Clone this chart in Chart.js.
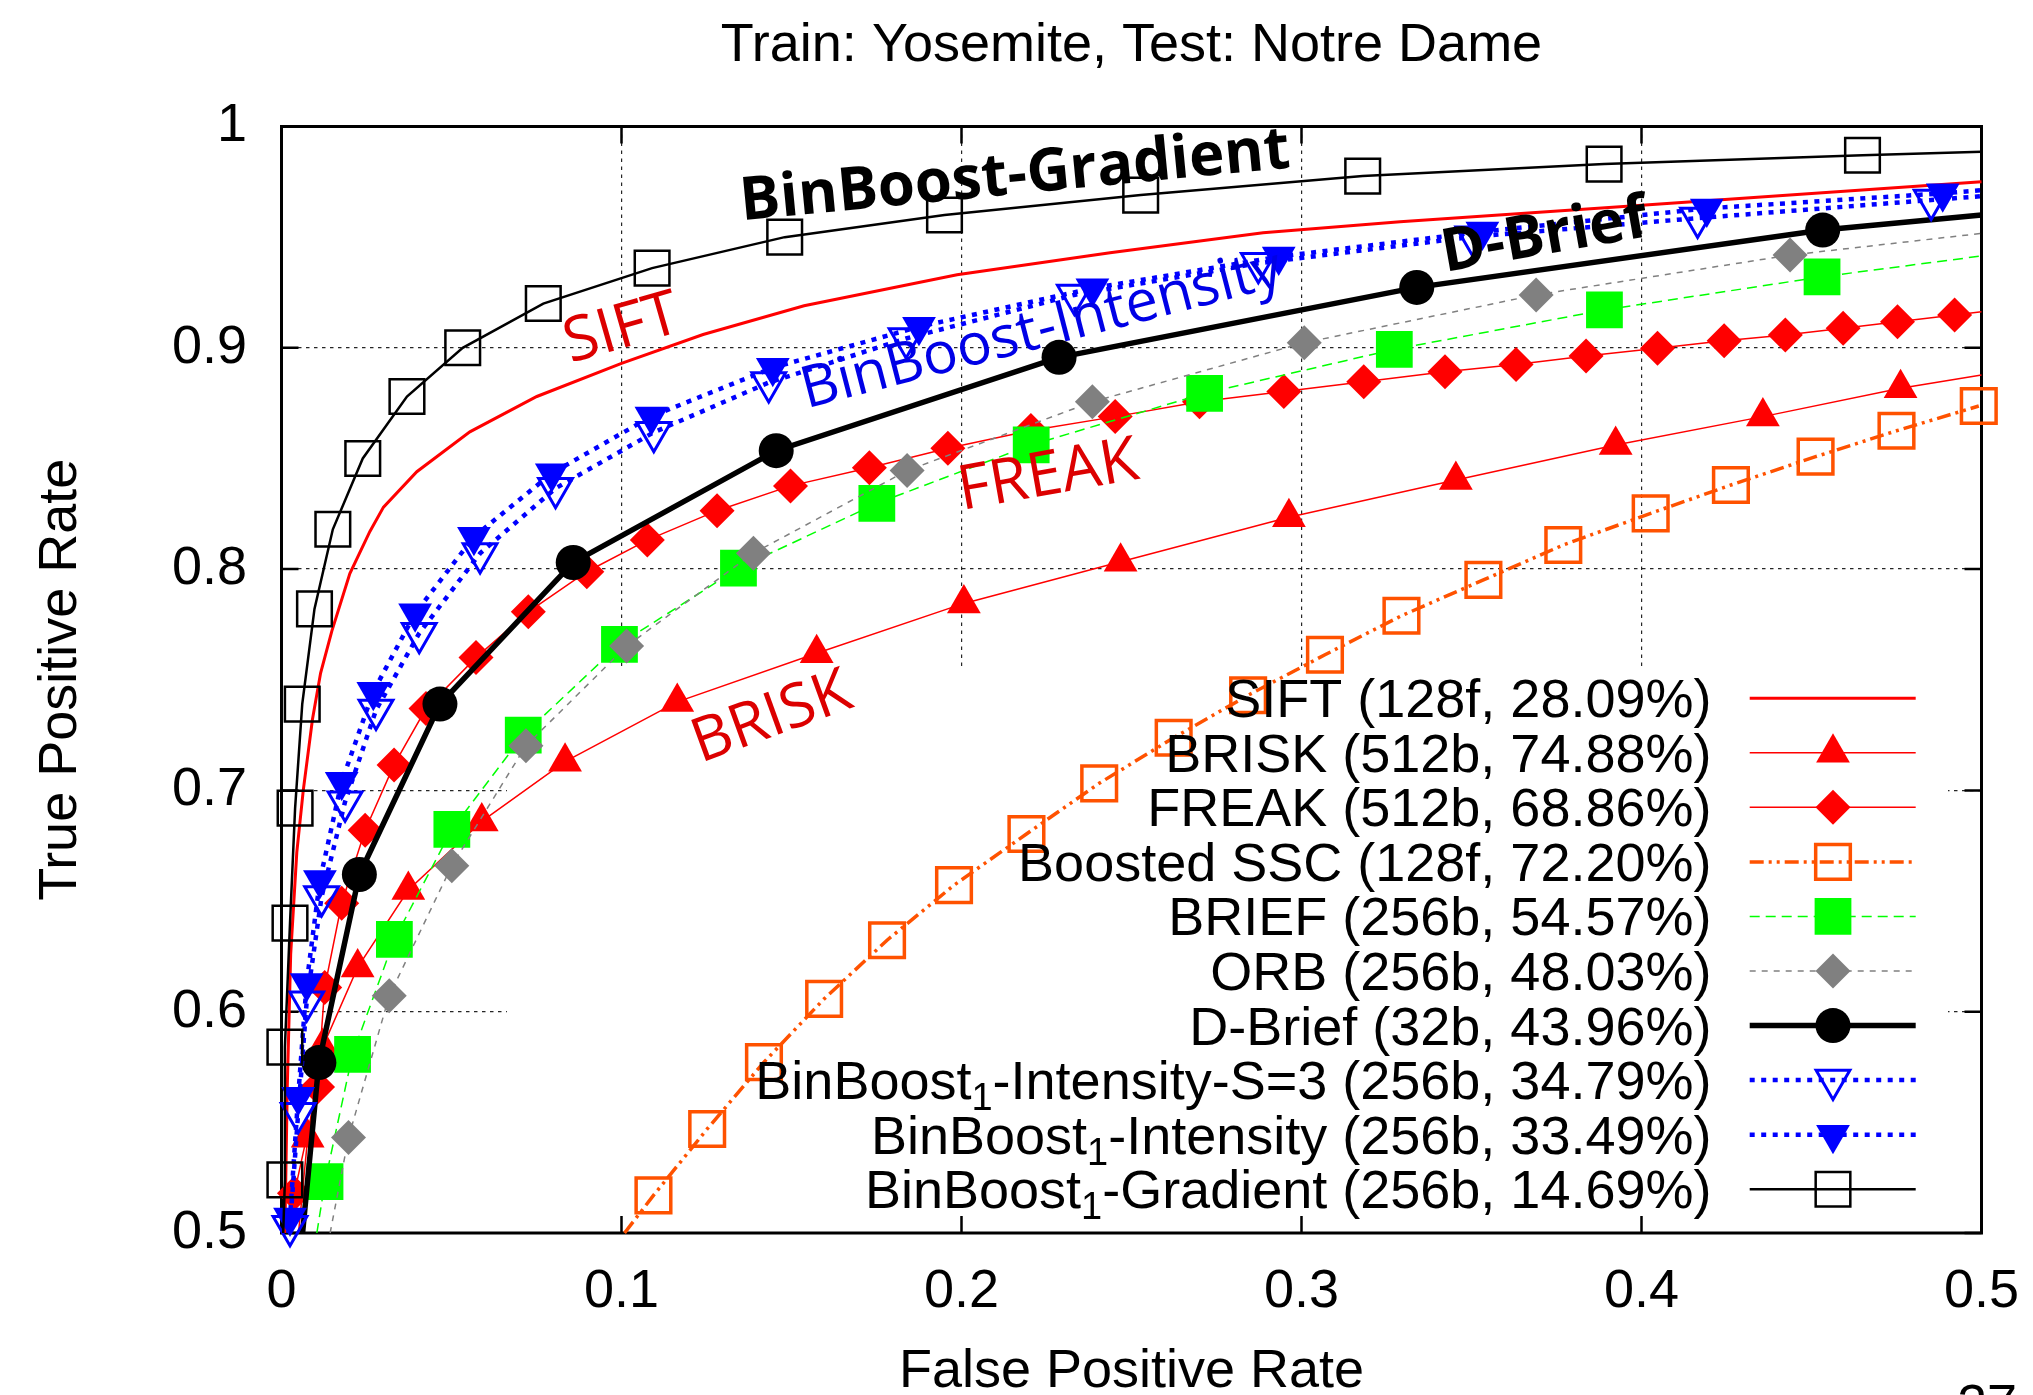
<!DOCTYPE html>
<html>
<head>
<meta charset="utf-8">
<script src="https://cdn.jsdelivr.net/npm/chart.js@4.4.0/dist/chart.umd.min.js"></script>
<style>
  html, body { margin: 0; padding: 0; background: #ffffff; }
  #wrap { width: 2033px; height: 1395px; }
  canvas { display: block; }
</style>
</head>
<body>
<div id="wrap"><canvas id="c" width="2033" height="1395"></canvas></div>
<script>
// ---------------- data ----------------
const xTickLabels = ['0', '0.1', '0.2', '0.3', '0.4', '0.5'];
const yTickLabels = ['0.5', '0.6', '0.7', '0.8', '0.9', '1'];

const siftFpr = [0.001, 0.0017, 0.0027, 0.0045, 0.0064, 0.0091, 0.0115, 0.0148, 0.0201, 0.026, 0.030, 0.0398, 0.0554, 0.0751, 0.100, 0.124, 0.1537, 0.1987, 0.2437, 0.2887, 0.329, 0.3958, 0.5];
const siftTpr = [0.5, 0.566, 0.626, 0.672, 0.700, 0.732, 0.753, 0.772, 0.798, 0.817, 0.828, 0.844, 0.862, 0.878, 0.893, 0.906, 0.919, 0.933, 0.943, 0.952, 0.957, 0.964, 0.975];

const briskFpr = [0.005, 0.0077, 0.0121, 0.0224, 0.0373, 0.0589, 0.0834, 0.1164, 0.1574, 0.2007, 0.2468, 0.2963, 0.3454, 0.3924, 0.4357, 0.4762, 0.5];
const briskTpr = [0.5, 0.543, 0.584, 0.620, 0.655, 0.686, 0.713, 0.740, 0.762, 0.7845, 0.8033, 0.8234, 0.8403, 0.8561, 0.8689, 0.8817, 0.8877];

const freakFpr = [0.0023, 0.0038, 0.0106, 0.0127, 0.0177, 0.0246, 0.0331, 0.0425, 0.0572, 0.0726, 0.0898, 0.1076, 0.1281, 0.1497, 0.1729, 0.196, 0.2204, 0.2452, 0.27, 0.2948, 0.3183, 0.3422, 0.3631, 0.3837, 0.4047, 0.4243, 0.4423, 0.4593, 0.4753, 0.4921, 0.5];
const freakTpr = [0.5, 0.518, 0.566, 0.6109, 0.649, 0.682, 0.7115, 0.737, 0.760, 0.7807, 0.7988, 0.8131, 0.8264, 0.8376, 0.8458, 0.8546, 0.8626, 0.8689, 0.8756, 0.8802, 0.8847, 0.8892, 0.8925, 0.8963, 0.8998, 0.9032, 0.9058, 0.9088, 0.9118, 0.9148, 0.9163];

const sscFpr = [0.1009, 0.1094, 0.1252, 0.1419, 0.1596, 0.1781, 0.1978, 0.2191, 0.2405, 0.2624, 0.2843, 0.3069, 0.3294, 0.3535, 0.377, 0.4027, 0.4263, 0.4512, 0.475, 0.4992];
const sscTpr = [0.5, 0.517, 0.547, 0.5772, 0.6058, 0.6323, 0.6572, 0.6803, 0.7032, 0.7238, 0.743, 0.7613, 0.7789, 0.7951, 0.8109, 0.8252, 0.838, 0.8508, 0.8625, 0.8737];

const briefFpr = [0.0104, 0.0128, 0.0209, 0.0332, 0.0501, 0.0711, 0.0994, 0.1344, 0.1751, 0.2205, 0.2715, 0.3273, 0.3891, 0.4531, 0.5];
const briefTpr = [0.5, 0.5232, 0.5807, 0.6327, 0.6824, 0.725, 0.766, 0.8004, 0.8297, 0.8561, 0.8794, 0.8993, 0.9171, 0.9321, 0.9415];

const orbFpr = [0.0143, 0.0197, 0.0317, 0.0501, 0.0719, 0.1015, 0.1388, 0.184, 0.2385, 0.3008, 0.369, 0.4437, 0.5];
const orbTpr = [0.5, 0.5431, 0.6072, 0.666, 0.7202, 0.7652, 0.8072, 0.8445, 0.8756, 0.9023, 0.9239, 0.9419, 0.9517];

const dbriefFpr = [0.0062, 0.011, 0.0229, 0.0466, 0.0858, 0.1455, 0.2287, 0.3339, 0.4533, 0.5];
const dbriefTpr = [0.5, 0.577, 0.662, 0.739, 0.803, 0.8535, 0.8957, 0.9273, 0.9532, 0.960];

const binIntS3Fpr = [0.0025, 0.0049, 0.0074, 0.0118, 0.0187, 0.0278, 0.0405, 0.0584, 0.0806, 0.1095, 0.1433, 0.1837, 0.2332, 0.2873, 0.3504, 0.4165, 0.4852, 0.5];
const binIntS3Tpr = [0.503, 0.5541, 0.6045, 0.652, 0.6949, 0.7363, 0.771, 0.8071, 0.8365, 0.8618, 0.8843, 0.9042, 0.9239, 0.9382, 0.9502, 0.9586, 0.9668, 0.9685];

const binIntFpr = [0.002, 0.0025, 0.0049, 0.0074, 0.0113, 0.0177, 0.027, 0.0393, 0.0566, 0.0795, 0.1088, 0.1445, 0.1875, 0.2385, 0.2933, 0.3532, 0.4192, 0.4886, 0.5];
const binIntTpr = [0.5, 0.507, 0.5616, 0.613, 0.6595, 0.7039, 0.7446, 0.78, 0.8146, 0.8433, 0.869, 0.891, 0.9095, 0.9269, 0.9412, 0.9525, 0.963, 0.9698, 0.9712];

const binGradFpr = [0.0005, 0.001, 0.001, 0.0025, 0.004, 0.0061, 0.0097, 0.0151, 0.0239, 0.0369, 0.0533, 0.077, 0.109, 0.148, 0.195, 0.2527, 0.318, 0.389, 0.465, 0.5];
const binGradTpr = [0.5, 0.524, 0.584, 0.640, 0.692, 0.739, 0.782, 0.818, 0.850, 0.878, 0.900, 0.920, 0.936, 0.950, 0.960, 0.969, 0.9776, 0.983, 0.987, 0.9886];

const seriesLabels = [
  'SIFT (128f, 28.09%)',
  'BRISK (512b, 74.88%)',
  'FREAK (512b, 68.86%)',
  'Boosted SSC (128f, 72.20%)',
  'BRIEF (256b, 54.57%)',
  'ORB (256b, 48.03%)',
  'D-Brief (32b, 43.96%)',
  'BinBoost\u2081-Intensity-S=3 (256b, 34.79%)',
  'BinBoost\u2081-Intensity (256b, 33.49%)',
  'BinBoost\u2081-Gradient (256b, 14.69%)'
];
const seriesFpr = [siftFpr, briskFpr, freakFpr, sscFpr, briefFpr, orbFpr, dbriefFpr, binIntS3Fpr, binIntFpr, binGradFpr];
const seriesTpr = [siftTpr, briskTpr, freakTpr, sscTpr, briefTpr, orbTpr, dbriefTpr, binIntS3Tpr, binIntTpr, binGradTpr];

const annotationTexts = ['BinBoost-Gradient', 'SIFT', 'BinBoost-Intensity', 'D-Brief', 'FREAK', 'BRISK'];

// ---------------- styles / layout ----------------
const RED = '#ff0000', ORANGE = '#ff5200', GREEN = '#00ff00', GRAY = '#808080', BLUE = '#0000ff', BLACK = '#000000';
const STYLES = [
  { color: RED,    width: 3,   dash: [],                    marker: null },
  { color: RED,    width: 1.5, dash: [],                    marker: { style: 'triangle', r: 19.5, rot: 0,   fill: RED } },
  { color: RED,    width: 1.5, dash: [],                    marker: { style: 'rectRot',  r: 17.5, rot: 0,   fill: RED } },
  { color: ORANGE, width: 3.5, dash: [14, 5, 3, 5, 3, 5],   marker: { style: 'rect',     r: 24.5, rot: 0,   stroke: ORANGE, lw: 3.5 } },
  { color: GREEN,  width: 1.5, dash: [10, 6],               marker: { style: 'rect',     r: 26,   rot: 0,   fill: GREEN } },
  { color: GRAY,   width: 1.5, dash: [6, 6],                marker: { style: 'rectRot',  r: 17.5, rot: 0,   fill: GRAY } },
  { color: BLACK,  width: 5.5, dash: [],                    marker: { style: 'circle',   r: 17.5, rot: 0,   fill: BLACK } },
  { color: BLUE,   width: 4.5, dash: [5, 6.5],              marker: { style: 'triangle', r: 19.5, rot: 180, stroke: BLUE, lw: 3 } },
  { color: BLUE,   width: 4.5, dash: [5, 6.5],              marker: { style: 'triangle', r: 19.5, rot: 180, fill: BLUE } },
  { color: BLACK,  width: 2.5, dash: [],                    marker: { style: 'rect',     r: 24.5, rot: 0,   stroke: BLACK, lw: 2.5 } }
];

const ANNOT = [
  { x: 0.1354, y: 0.9576, angle: 5.5,  color: '#000000', weight: 'bold',   size: 60 },
  { x: 0.0850, y: 0.8931, angle: 16,   color: '#dc0000', weight: 'normal', size: 62 },
  { x: 0.1544, y: 0.8726, angle: 14.5, color: '#0000e6', weight: 'normal', size: 58 },
  { x: 0.3422, y: 0.9343, angle: 10,   color: '#000000', weight: 'bold',   size: 60 },
  { x: 0.2001, y: 0.8267, angle: 10,   color: '#dc0000', weight: 'normal', size: 62 },
  { x: 0.1232, y: 0.7124, angle: 20,   color: '#dc0000', weight: 'normal', size: 61 }
];

const FONT = 'Liberation Sans, Arial, Helvetica, sans-serif';
const FS = 54;
const KEY = { boxLeft: 0.1326, boxTop: 0.4893, boxRightGap: 33.5, firstRow: 571.7, rowStep: 54.56,
              textRightGap: 270, lineStartGap: 231.8, lineEndGap: 65.8, markGap: 148.5, subSize: 38, subShift: 11 };
const XMIN = 0, XMAX = 0.5, YMIN = 0.5, YMAX = 1;

// ---------------- helpers ----------------
function drawMarker(ctx, m, x, y) {
  ctx.save();
  ctx.beginPath();
  const r = m.r;
  if (m.style === 'circle') {
    ctx.arc(x, y, r, 0, Math.PI * 2);
  } else if (m.style === 'rect') {
    const s = Math.SQRT1_2 * r;
    ctx.rect(x - s, y - s, 2 * s, 2 * s);
  } else if (m.style === 'rectRot') {
    ctx.moveTo(x - r, y); ctx.lineTo(x, y - r); ctx.lineTo(x + r, y); ctx.lineTo(x, y + r); ctx.closePath();
  } else if (m.style === 'triangle') {
    let rad = (m.rot || 0) * Math.PI / 180;
    for (let k = 0; k < 3; k++) {
      const px = x + Math.sin(rad) * r, py = y - Math.cos(rad) * r;
      if (k === 0) ctx.moveTo(px, py); else ctx.lineTo(px, py);
      rad += 2 * Math.PI / 3;
    }
    ctx.closePath();
  }
  if (m.fill) { ctx.fillStyle = m.fill; ctx.fill(); }
  if (m.stroke) { ctx.lineWidth = m.lw; ctx.strokeStyle = m.stroke; ctx.stroke(); }
  ctx.restore();
}

// draw label right-aligned; "₁" is rendered as a true subscript 1
function drawKeyText(ctx, label, xRight, baseY) {
  const parts = label.split('\u2081');
  const main = FS + 'px ' + FONT, sub = KEY.subSize + 'px ' + FONT;
  let total = 0;
  const widths = [];
  parts.forEach((p, i) => {
    ctx.font = main; const w = ctx.measureText(p).width; widths.push(w); total += w;
    if (i < parts.length - 1) { ctx.font = sub; total += ctx.measureText('1').width; }
  });
  let x = xRight - total;
  ctx.textAlign = 'left';
  ctx.textBaseline = 'alphabetic';
  parts.forEach((p, i) => {
    ctx.font = main; ctx.fillText(p, x, baseY); x += widths[i];
    if (i < parts.length - 1) {
      ctx.font = sub; ctx.fillText('1', x, baseY + KEY.subShift); x += ctx.measureText('1').width;
    }
  });
}

// ---------------- plugins ----------------
const framePlugin = {
  id: 'frameAndKeyBox',
  beforeDatasetsDraw(chart) {
    const { ctx, chartArea: a, scales: { x, y } } = chart;
    ctx.save();
    // opaque key box hides the grid below it
    ctx.fillStyle = '#ffffff';
    const bl = a.left + KEY.boxLeft * a.width, bt = a.top + KEY.boxTop * a.height;
    ctx.fillRect(bl, bt, (a.right - KEY.boxRightGap) - bl, a.bottom - bt);
    // border
    ctx.strokeStyle = '#000'; ctx.lineWidth = 3;
    ctx.strokeRect(a.left, a.top, a.width, a.height);
    // inward tick marks on all four sides
    ctx.lineWidth = 2.5;
    const L = 17;
    ctx.beginPath();
    x.ticks.forEach(t => {
      const px = x.getPixelForValue(t.value);
      ctx.moveTo(px, a.bottom); ctx.lineTo(px, a.bottom - L);
      ctx.moveTo(px, a.top); ctx.lineTo(px, a.top + L);
    });
    y.ticks.forEach(t => {
      const py = y.getPixelForValue(t.value);
      ctx.moveTo(a.left, py); ctx.lineTo(a.left + L, py);
      ctx.moveTo(a.right, py); ctx.lineTo(a.right - L, py);
    });
    ctx.stroke();
    ctx.restore();
  },
  afterDatasetsDraw(chart) {
    const { ctx, chartArea: a, scales: { x, y } } = chart;
    ctx.save();
    ctx.fillStyle = '#000';
    // key
    seriesLabels.forEach((lab, i) => {
      const st = STYLES[i];
      const ry = a.top + KEY.firstRow + i * KEY.rowStep;
      ctx.fillStyle = '#000';
      drawKeyText(ctx, lab, a.right - KEY.textRightGap, ry + 19);
      ctx.save();
      ctx.strokeStyle = st.color; ctx.lineWidth = st.width; ctx.setLineDash(st.dash); ctx.lineCap = 'butt';
      ctx.beginPath(); ctx.moveTo(a.right - KEY.lineStartGap, ry); ctx.lineTo(a.right - KEY.lineEndGap, ry); ctx.stroke();
      ctx.restore();
      if (st.marker) drawMarker(ctx, st.marker, a.right - KEY.markGap, ry);
    });
    // in-plot labels
    annotationTexts.forEach((t, i) => {
      const an = ANNOT[i];
      ctx.save();
      ctx.translate(x.getPixelForValue(an.x), y.getPixelForValue(an.y));
      ctx.rotate(-an.angle * Math.PI / 180);
      ctx.font = an.weight + ' ' + an.size + 'px "Open Sans", "DejaVu Sans", sans-serif';
      ctx.fillStyle = an.color;
      ctx.textAlign = 'left'; ctx.textBaseline = 'alphabetic';
      ctx.fillText(t, 0, 0);
      ctx.restore();
    });
    ctx.restore();
  },
  afterDraw(chart) {
    const { ctx } = chart;
    ctx.save();
    ctx.font = FS + 'px ' + FONT; ctx.fillStyle = '#000'; ctx.textAlign = 'left'; ctx.textBaseline = 'alphabetic';
    ctx.fillText('27', 1957, 1422);
    ctx.restore();
  }
};

// ---------------- chart ----------------
const datasets = seriesLabels.map((lab, i) => {
  const st = STYLES[i];
  const m = st.marker;
  return {
    label: lab,
    data: seriesFpr[i].map((v, k) => ({ x: v, y: seriesTpr[i][k] })),
    showLine: true,
    borderColor: st.color,
    borderWidth: st.width,
    borderDash: st.dash,
    borderCapStyle: 'butt',
    tension: 0,
    fill: false,
    clip: false,
    order: seriesLabels.length - i,
    pointStyle: m ? m.style : 'circle',
    pointRotation: m ? m.rot : 0,
    pointRadius: m ? (ctx => (ctx.raw && (ctx.raw.x >= XMAX || ctx.raw.y <= YMIN)) ? 0 : m.r) : 0,
    pointHoverRadius: 0,
    pointBackgroundColor: m ? (m.fill || 'rgba(0,0,0,0)') : 'rgba(0,0,0,0)',
    pointBorderColor: m ? (m.stroke || m.fill) : st.color,
    pointBorderWidth: m && m.stroke ? m.lw : 0
  };
});

Chart.defaults.font.family = FONT;
Chart.defaults.color = '#000';

new Chart(document.getElementById('c'), {
  type: 'scatter',
  data: { datasets },
  options: {
    responsive: false,
    devicePixelRatio: 1,
    animation: false,
    events: [],
    layout: { autoPadding: false, padding: { top: 0, left: 0, right: 51.5, bottom: 0 } },
    plugins: {
      legend: { display: false },
      tooltip: { enabled: false },
      title: {
        display: true,
        fullSize: false,
        text: 'Train: Yosemite, Test: Notre Dame',
        color: '#000',
        font: { family: FONT, size: FS, weight: 'normal', lineHeight: 1.2 },
        padding: { top: 13.6, bottom: 48.1 }
      }
    },
    scales: {
      x: {
        type: 'linear', min: XMIN, max: XMAX,
        afterFit: s => { s.height = 162; s.paddingLeft = 0; s.paddingRight = 0; },
        ticks: { stepSize: 0.1, autoSkip: false, maxRotation: 0, padding: 26.85,
                 font: { family: FONT, size: FS, lineHeight: 1.2 }, color: '#000',
                 callback: (v, idx) => xTickLabels[idx] },
        grid: { color: 'rgba(0,0,0,0.85)', lineWidth: 1.2, drawTicks: false, borderDash: [3.5, 4.5] },
        border: { display: false, dash: [3.5, 4.5] },
        title: { display: true, text: 'False Positive Rate', color: '#000',
                 font: { family: FONT, size: FS, lineHeight: 1.2 }, padding: { top: 0, bottom: -9.15 } }
      },
      y: {
        type: 'linear', min: YMIN, max: YMAX,
        afterFit: s => { s.width = 281.5; s.paddingTop = 0; s.paddingBottom = 0; },
        ticks: { stepSize: 0.1, autoSkip: false, padding: 34.5,
                 font: { family: FONT, size: FS, lineHeight: 1.2 }, color: '#000',
                 callback: (v, idx) => yTickLabels[idx] },
        grid: { color: 'rgba(0,0,0,0.85)', lineWidth: 1.2, drawTicks: false, borderDash: [3.5, 4.5] },
        border: { display: false, dash: [3.5, 4.5] },
        title: { display: true, text: 'True Positive Rate', color: '#000',
                 font: { family: FONT, size: FS, lineHeight: 1.2 }, padding: { top: 28.6, bottom: 0 } }
      }
    }
  },
  plugins: [framePlugin]
});
</script>
</body>
</html>
